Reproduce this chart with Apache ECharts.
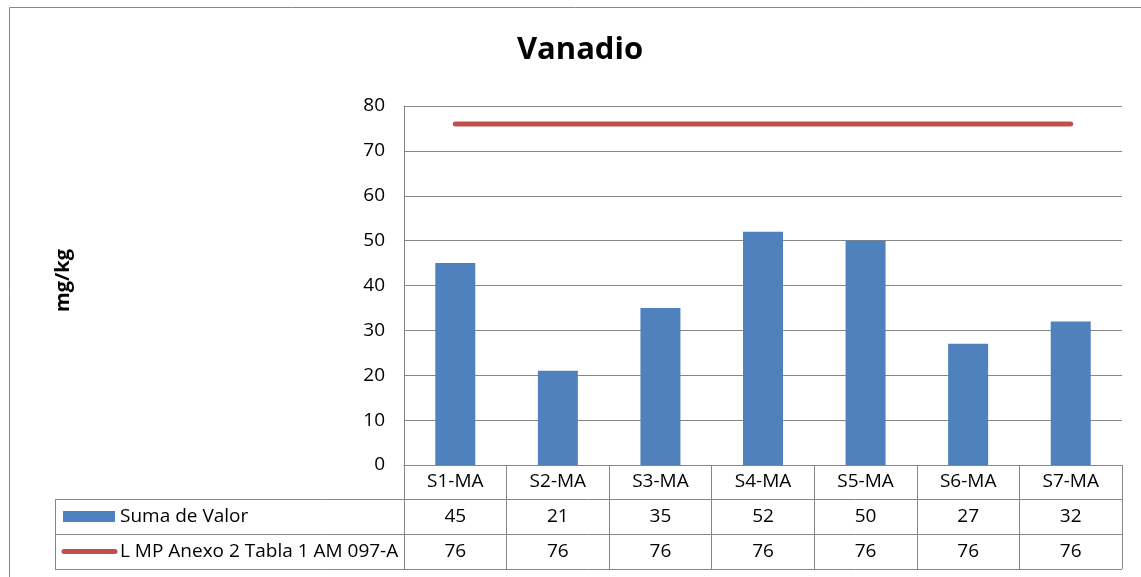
<!DOCTYPE html>
<html>
<head>
<meta charset="utf-8">
<script src="https://cdn.jsdelivr.net/npm/echarts@6/dist/echarts.min.js"></script>
<style>
html, body { margin:0; padding:0; background:#fff; }
#chart { width:1141px; height:577px; }
</style>
</head>
<body>
<div id="chart"></div>
<script>
// data
const categories = ['S1-MA', 'S2-MA', 'S3-MA', 'S4-MA', 'S5-MA', 'S6-MA', 'S7-MA'];
const sumaValor = [45, 21, 35, 52, 50, 27, 32];
const limite = [76, 76, 76, 76, 76, 76, 76];
const seriesNames = ['Suma de Valor', 'L MP Anexo 2 Tabla 1 AM 097-A'];

const FONT = '"Open Sans", Lato, sans-serif';
const FS = 19;
const GRAY = '#868686';
const BLUE = '#4F81BD';
const RED = '#C0504D';

const chart = echarts.init(document.getElementById('chart'));

let option = {
    animation:false,
    textStyle:{ fontFamily:FONT },
    title:{
        text:'Vanadio',
        left:575,
        top:30,
        textAlign:'center',
        textStyle:{ fontSize:31, fontWeight:'bold', color:'#000', fontFamily:FONT }
    },
    grid:{ left:404, right:19, top:106, bottom:112 },
    xAxis:{
        type:'category',
        data:categories,
        axisLine:{ lineStyle:{ color:GRAY, width:1 } },
        axisTick:{ show:true, length:104, interval:0, alignWithLabel:false, lineStyle:{ color:GRAY } },
        axisLabel:{ color:'#000', fontSize:FS, margin:7, interval:0, fontFamily:FONT }
    },
    yAxis:{
        type:'value',
        min:0,
        max:80,
        interval:10,
        name:'mg/kg',
        nameLocation:'middle',
        nameRotate:90,
        nameGap:331,
        nameTextStyle:{ fontSize:20, fontWeight:'bold', color:'#000', fontFamily:FONT, padding:[0, 0, 0, 10] },
        axisLine:{ show:true, lineStyle:{ color:GRAY } },
        axisTick:{ show:false },
        axisLabel:{ color:'#000', fontSize:FS, margin:19, fontFamily:FONT },
        splitLine:{ lineStyle:{ color:GRAY } }
    },
    series:[
        {
            type:'bar',
            name:seriesNames[0],
            data:sumaValor,
            barWidth:40,
            itemStyle:{ color:BLUE }
        },
        {
            type:'line',
            name:seriesNames[1],
            data:limite,
            symbol:'none',
            lineStyle:{ color:RED, width:5, cap:'round' }
        }
    ]
};
chart.setOption(option);

// data table under the axis, built from the arrays above
let xLeft = 404, xRight = 1122;
let rowY = [499.5, 534.5, 569.5];
let g = [];
g.push({ type:'rect', shape:{ x:9.5, y:7.5, width:1200, height:620 }, style:{ fill:'none', stroke:GRAY, lineWidth:1 }, silent:true });
rowY.forEach(y=>{
    g.push({ type:'line', shape:{ x1:55, y1:y, x2:xRight, y2:y }, style:{ stroke:GRAY, lineWidth:1 } });
});
g.push({ type:'line', shape:{ x1:55.5, y1:499.5, x2:55.5, y2:569.5 }, style:{ stroke:GRAY, lineWidth:1 } });
g.push({ type:'line', shape:{ x1:xLeft + 0.5, y1:499.5, x2:xLeft + 0.5, y2:569.5 }, style:{ stroke:GRAY, lineWidth:1 } });
// legend keys
g.push({ type:'rect', shape:{ x:63, y:511, width:52, height:11 }, style:{ fill:BLUE } });
g.push({ type:'line', shape:{ x1:64, y1:551.5, x2:115, y2:551.5 }, style:{ stroke:RED, lineWidth:5, lineCap:'round' } });
[517, 552].forEach((y, i)=>{
    g.push({ type:'text', x:120, y:y, style:{ text:seriesNames[i], fontSize:FS, fontFamily:FONT, fill:'#000', verticalAlign:'middle', align:'left' } });
});
[sumaValor, limite].forEach((arr, r)=>{
    arr.forEach((v, i)=>{
        let px = chart.convertToPixel({ xAxisIndex:0 }, categories[i]);
        g.push({ type:'text', x:px, y:[517, 552][r], style:{ text:String(v), fontSize:FS, fontFamily:FONT, fill:'#000', align:'center', verticalAlign:'middle' } });
    });
});
chart.setOption({ graphic:g });
</script>
</body>
</html>
